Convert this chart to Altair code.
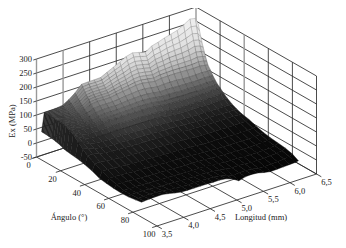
import altair as alt
import pandas as pd

# ---- data ----
angles = [2,3,4,5,6,7,8,9,10,12,14,16,18,20,23,26,30,34,38,44,50,56,62,68,74,80,85]
lengths = [3.55,3.6,3.7,3.82,3.94,4.06,4.18,4.3,4.42,4.54,4.66,4.78,4.9,5.02,5.14,5.26,5.38,5.5,5.62,5.74,5.86,5.98,6.1,6.22,6.34,6.44,6.5]
column_shade = [0.45,0.5,0.55,0.6,0.65,0.72,0.8,0.88,0.92,0.96,1,1,1,1,1,1,1,1,1,1,1,1,1,1,1,1,1]
ex = [
[42,108,108,109,112,125,142,165,166,166,167,178,189,200,212,218,212,205,220,226,234,240,246,258,272,268,243],
[42,108,108,108,110,121,137,158,160,159,160,170,180,189,200,205,200,193,206,211,218,222,227,236,247,243,222],
[42,108,107,106,107,117,131,151,153,152,153,162,171,178,188,192,187,181,192,196,202,205,208,215,224,219,204],
[41,108,106,104,105,113,126,144,146,146,146,154,162,168,177,180,176,170,179,182,187,189,191,196,203,198,186],
[41,108,105,102,102,109,121,137,140,139,139,146,153,158,166,169,165,159,167,169,173,174,175,178,184,179,171],
[41,107,104,100,100,105,116,131,133,133,133,139,145,149,156,158,154,149,155,157,160,160,160,162,166,162,156],
[40,107,103,98,97,101,111,125,127,127,127,132,137,140,146,148,144,139,144,145,147,147,147,147,150,147,142],
[40,107,102,96,95,98,106,119,121,121,121,125,129,132,137,138,134,130,134,135,136,135,134,134,136,133,129],
[39,107,101,94,92,95,102,113,116,115,115,119,122,125,129,129,125,121,124,125,125,124,123,122,123,120,117],
[38,106,99,90,87,89,94,103,105,105,105,107,110,112,114,114,110,106,108,108,107,105,104,104,105,103,104],
[36,105,96,86,83,83,87,94,96,96,95,97,99,100,101,100,97,93,94,93,92,91,90,90,91,90,90],
[34,105,93,82,78,78,80,86,87,87,87,88,89,90,90,89,85,82,82,81,79,79,78,78,79,78,78],
[31,104,90,78,74,73,74,78,80,79,79,80,80,81,80,79,75,72,71,70,68,69,68,68,69,68,68],
[27,102,86,74,70,68,68,72,73,72,72,72,72,72,71,70,66,63,62,61,59,60,59,59,61,60,61],
[24,96,79,67,62,60,59,61,62,61,60,60,60,59,58,57,53,50,49,48,48,48,47,48,49,48,48],
[22,88,72,60,55,53,51,53,53,52,51,51,50,49,48,47,44,41,40,39,39,38,38,38,39,38,38],
[20,72,62,52,47,45,43,44,44,43,42,41,40,39,38,37,34,31,31,30,29,29,28,28,28,28,27],
[17,56,52,44,40,37,35,36,35,34,33,32,31,30,29,28,26,24,23,22,21,21,21,20,20,20,19],
[13,42,42,36,32,30,28,28,27,26,25,24,23,22,21,20,18,16,15,15,14,13,13,13,13,12,12],
[5,28,28,25,22,20,18,18,17,16,15,14,13,12,11,10,8,6,5,5,4,4,3,3,3,3,7],
[-6,16,16,14,12,10,9,8,7,6,5,4,3,2,1,0,-2,-4,-5,-5,-6,-6,-7,-7,-7,-6,-3],
[-10,6,6,5,3,1,0,-1,-2,-3,-4,-5,-6,-7,-8,-9,-11,-13,-14,-14,-15,-15,-16,-16,-15,-14,-10],
[-13,-2,-2,-3,-5,-6,-7,-8,-9,-10,-11,-12,-13,-13,-14,-15,-17,-19,-20,-21,-22,-22,-23,-22,-21,-20,-15],
[-14,-7,-7,-8,-9,-10,-11,-12,-13,-14,-15,-15,-16,-17,-18,-19,-22,-25,-25,-26,-28,-28,-28,-28,-26,-24,-18],
[-13,-8,-8,-8,-9,-11,-13,-14,-15,-16,-16,-17,-17,-18,-20,-23,-27,-30,-29,-30,-33,-33,-33,-32,-30,-27,-21],
[-9,-6,-5,-5,-6,-8,-11,-14,-15,-16,-16,-16,-17,-18,-21,-26,-34,-33,-32,-34,-39,-40,-39,-38,-36,-33,-28],
[-5,-4,-3,-2,-2,-6,-11,-15,-16,-16,-16,-16,-17,-17,-20,-28,-42,-35,-34,-36,-42,-46,-45,-44,-43,-42,-40],
]
z_ticks = [-50,0,50,100,150,200,250,300]
a_ticks = [0,20,40,60,80,100]
l_ticks = [3.5,4.0,4.5,5.0,5.5,6.0,6.5]
l_tick_labels = ["3,5","4,0","4,5","5,0","5,5","6,0","6,5"]

# ---- oblique view of the box: screen position of one data point ----
def px(a, L, z):
    return 36.5 + a / 100 * 120.5 + (L - 3.5) / 3 * 159.5
def py(a, L, z):
    return 157 + a / 100 * 69 - (L - 3.5) / 3 * 52 - (z + 50) / 350 * 98

# ---- surface cells, painted from the far corner to the near corner ----
features = []
for i in range(len(angles) - 1):
    for j in range(len(lengths) - 2, -1, -1):
        corners = [(i, j), (i, j + 1), (i + 1, j + 1), (i + 1, j), (i, j)]
        ring = [[px(angles[p], lengths[q], ex[p][q]), py(angles[p], lengths[q], ex[p][q])] for p, q in corners]
        mean = sum(ex[p][q] for p, q in corners[:4]) / 4
        features.append({"type": "Feature", "geometry": {"type": "Polygon", "coordinates": [ring]},
                         "properties": {"shade": mean * column_shade[j] if mean > 0 else mean}})

# ---- box lines ----
rows = []
def seg(name, p0, p1):
    for k, p in enumerate((p0, p1)):
        rows.append({"id": name, "k": k, "x": px(*p), "y": py(*p)})
for z in z_ticks:
    seg(f"wa{z}", (0, 3.5, z), (0, 6.5, z))
    seg(f"wb{z}", (0, 6.5, z), (100, 6.5, z))
for L in l_ticks[2:6]:
    seg(f"vl{L}", (0, L, -50), (0, L, 300))
for L in l_ticks:
    seg(f"fl{L}", (0, L, -50), (100, L, -50))
for a in [20, 60, 80, 100]:
    seg(f"va{a}", (a, 6.5, -50), (a, 6.5, 300))
for a in a_ticks:
    seg(f"fa{a}", (a, 3.5, -50), (a, 6.5, -50))
grid = pd.DataFrame(rows)

rows = []
seg("g0", (0, 3.5, -50), (0, 3.5, 300))
seg("g1", (0, 4.0, -50), (0, 4.0, 300))
seg("g2", (0, 6.5, -50), (0, 6.5, 300))
seg("g3", (40, 6.5, -50), (40, 6.5, 300))
grid_soft = pd.DataFrame(rows)

rows = []
for z in z_ticks:
    seg(f"tz{z}", (0, 3.44, z), (0, 3.5, z))
for a in a_ticks:
    seg(f"ta{a}", (a, 3.41, -50), (a, 3.5, -50))
for L in l_ticks:
    seg(f"tl{L}", (100, L, -50), (104, L, -50))
ticks = pd.DataFrame(rows)

labels = pd.DataFrame(
    [{"t": str(z), "x": 32, "y": py(0, 3.5, z) - 0.5} for z in z_ticks]
)
labels_c = pd.DataFrame(
    [{"t": str(a), "x": px(a, 3.5, -50) - 8, "y": py(a, 3.5, -50) + 8} for a in a_ticks]
    + [{"t": s, "x": px(100, L, -50) + 10, "y": py(100, L, -50) + 8} for L, s in zip(l_ticks, l_tick_labels)]
    + [{"t": "Ángulo (°)", "x": 69, "y": 217}, {"t": "Longitud (mm)", "x": 261, "y": 217}]
)
ylab = pd.DataFrame([{"t": "Ex (MPa)", "x": 12, "y": 121}])

X = alt.X("x:Q", scale=alt.Scale(domain=[8, 338], nice=False, zero=False), axis=None)
Y = alt.Y("y:Q", scale=alt.Scale(domain=[240, 8], nice=False, zero=False), axis=None)
serif = "Liberation Serif"

def lines(df, color, width):
    return alt.Chart(df).mark_line(color=color, strokeWidth=width, clip=False).encode(
        x=X, y=Y, detail="id:N", order="k:Q")

surface = alt.Chart(alt.InlineData(values={"type": "FeatureCollection", "features": features},
                                   format=alt.DataFormat(property="features", type="json"))
    ).mark_geoshape(strokeWidth=0.4).encode(
    fill=alt.Fill("properties.shade:Q", legend=None, scale=alt.Scale(
        domain=[-50, 0, 25, 50, 75, 100, 150, 200, 300],
        range=["#050505", "#0c0c0c", "#1e1e1e", "#3c3c3c", "#5c5c5c", "#808080", "#bcbcbc", "#e2e2e2", "#f6f6f6"])),
    stroke=alt.Stroke("properties.shade:Q", legend=None, scale=alt.Scale(
        domain=[-50, 0, 50, 100, 200, 300],
        range=["#050505", "#0a0a0a", "#282828", "#4c4c4c", "#8c8c8c", "#a0a0a0"])),
).project(type="identity", scale=1, translate=[-8, -8])

text_r = alt.Chart(labels).mark_text(font=serif, fontSize=8.5, color="#222222", align="right", baseline="middle").encode(x=X, y=Y, text="t:N")
text_c = alt.Chart(labels_c).mark_text(font=serif, fontSize=8.5, color="#222222", align="center", baseline="middle").encode(x=X, y=Y, text="t:N")
text_y = alt.Chart(ylab).mark_text(font=serif, fontSize=8.5, color="#222222", align="center", baseline="middle", angle=270).encode(x=X, y=Y, text="t:N")

chart = alt.layer(lines(grid, "#2c2c2c", 0.85), lines(grid_soft, "#999999", 1.4), surface,
                  lines(ticks, "#2c2c2c", 0.85), text_r, text_c, text_y).properties(
    width=330, height=232, padding=0, autosize=alt.AutoSizeParams(type="none"), background="white"
).configure_view(stroke=None)

chart.save("out.html", embed_options={"renderer": "svg", "actions": False})
